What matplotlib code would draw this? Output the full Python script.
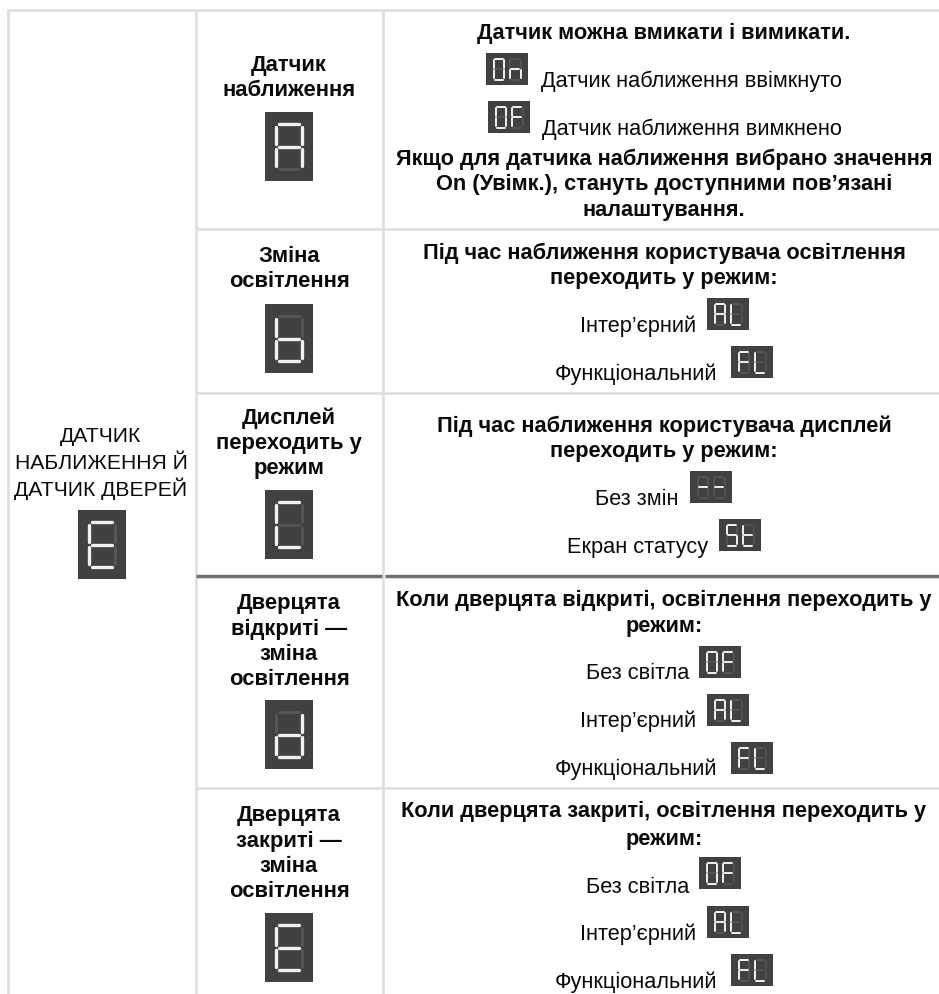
import matplotlib
matplotlib.use("Agg")
import matplotlib.pyplot as plt
from matplotlib.patches import Rectangle

plt.rcParams['font.family'] = ['Liberation Sans', 'DejaVu Sans']

# текст таблиці
left_title = ["ДАТЧИК", "НАБЛИЖЕННЯ Й", "ДАТЧИК ДВЕРЕЙ"]
left_y = [442, 469, 496]

mid_titles = ["Датчик", "наближення", "Зміна", "освітлення", "Дисплей", "переходить у", "режим",
              "Дверцята", "відкриті —", "зміна", "освітлення",
              "Дверцята", "закриті —", "зміна", "освітлення"]
mid_y = [71, 96, 262, 287, 424, 449, 474, 609, 635, 660, 685, 821, 847, 872, 897]

bold_lines = ["Датчик можна вмикати і вимикати.",
              "Якщо для датчика наближення вибрано значення",
              "On (Увімк.), стануть доступними пов’язані",
              "налаштування.",
              "Під час наближення користувача освітлення",
              "переходить у режим:",
              "Під час наближення користувача дисплей",
              "переходить у режим:",
              "Коли дверцята відкриті, освітлення переходить у",
              "режим:",
              "Коли дверцята закриті, освітлення переходить у",
              "режим:"]
bold_y = [39, 165, 190, 216, 259, 284, 432, 457, 606, 632, 817, 845]

plain_lines = ["Датчик наближення ввімкнуто", "Датчик наближення вимкнено",
               "Інтер’єрний", "Функціональний", "Без змін", "Екран статусу",
               "Без світла", "Інтер’єрний", "Функціональний",
               "Без світла", "Інтер’єрний", "Функціональний"]
plain_x = [541, 542, 580, 555, 595, 567, 586, 580, 555, 586, 580, 555]
plain_y = [87, 135, 332, 380, 505, 553, 679, 727, 775, 893, 940, 988]

# цифрові індикатори
big_chars = ["E", "A", "b", "C", "d", "E"]
big_x = [78, 265, 265, 265, 265, 265]
big_y = [511, 113, 305, 491, 701, 914]

small_chars = ["0n", "0F", "AL", "FL", "--", "St", "0F", "AL", "FL", "0F", "AL", "FL"]
small_x = [486, 488, 707, 731, 690, 719, 699, 707, 731, 699, 707, 731]
small_y = [54, 102, 299, 347, 472, 520, 647, 695, 743, 858, 907, 955]

segments = {"A": "abcefg", "b": "cdefg", "C": "adef", "d": "bcdeg", "E": "adefg",
            "0": "abcdef", "n": "ceg", "F": "aefg", "L": "def", "t": "defg",
            "S": "acdfg", "-": "g"}

fig = plt.figure(figsize=(9.39, 9.95), dpi=100)
ax = fig.add_axes([0, 0, 1, 1])
ax.set_xlim(0, 939)
ax.set_ylim(995, 0)
ax.axis("off")


def digit(x, y, w, h, ch, lw):
    # сім сегментів у межах x..x+w, y..y+h
    g = h * 0.06
    m = y + h / 2
    r = x + w
    b = y + h
    segs = {
        "a": ((x + g, r - g), (y, y)),
        "g": ((x + g, r - g), (m, m)),
        "d": ((x + g, r - g), (b, b)),
        "f": ((x, x), (y + g, m - g)),
        "b": ((r, r), (y + g, m - g)),
        "e": ((x, x), (m + g, b - g)),
        "c": ((r, r), (m + g, b - g)),
    }
    for name, (xs, ys) in segs.items():
        lit = name in segments[ch]
        ax.plot(xs, ys, color="#f0f0f0" if lit else "#585858", lw=lw if lit else lw * 0.8,
                solid_capstyle="round", zorder=5 if lit else 4)


def display_big(x, y, ch):
    ax.add_patch(Rectangle((x, y), 48, 69, color="#414141", lw=0, zorder=3))
    digit(x + 11, y + 12, 26, 45, ch, 2.4)


def display_small(x, y, chars):
    ax.add_patch(Rectangle((x, y), 42, 32, color="#414141", lw=0, zorder=3))
    digit(x + 7.5, y + 6, 10.5, 20.5, chars[0], 1.4)
    digit(x + 24, y + 6, 10.5, 20.5, chars[1], 1.4)


# лінії таблиці
grey = "#dedfe0"
ax.plot([8, 8], [995, 10], color=grey, lw=1.9, solid_capstyle="butt")
ax.plot([196, 196], [995, 10], color=grey, lw=1.9, solid_capstyle="butt")
ax.plot([383, 383], [995, 10], color=grey, lw=1.9, solid_capstyle="butt")
ax.plot([8, 939], [11, 11], color=grey, lw=1.9, solid_capstyle="butt")
for yy in [229.5, 394, 789]:
    ax.plot([196, 939], [yy, yy], color=grey, lw=1.9, solid_capstyle="butt")
ax.plot([196, 381.5], [577, 577], color="#707070", lw=2.5, solid_capstyle="butt")
ax.plot([384.5, 939], [577, 577], color="#707070", lw=2.5, solid_capstyle="butt")

for line, y in zip(left_title, left_y):
    ax.text(101, y, line, ha="center", va="baseline", fontsize=15.2, color="#0a0a0a")
for line, y in zip(mid_titles, mid_y):
    ax.text(289, y, line, ha="center", va="baseline", fontsize=15.8, weight="bold", color="#0a0a0a")
for line, y in zip(bold_lines, bold_y):
    ax.text(664, y, line, ha="center", va="baseline", fontsize=15.7, weight="bold", color="#0a0a0a")
for line, x, y in zip(plain_lines, plain_x, plain_y):
    ax.text(x, y, line, ha="left", va="baseline", fontsize=15.7, color="#0a0a0a")

for ch, x, y in zip(big_chars, big_x, big_y):
    display_big(x, y, ch)
for chars, x, y in zip(small_chars, small_x, small_y):
    display_small(x, y, chars)

fig.savefig("out.png", dpi=100, facecolor="white")
